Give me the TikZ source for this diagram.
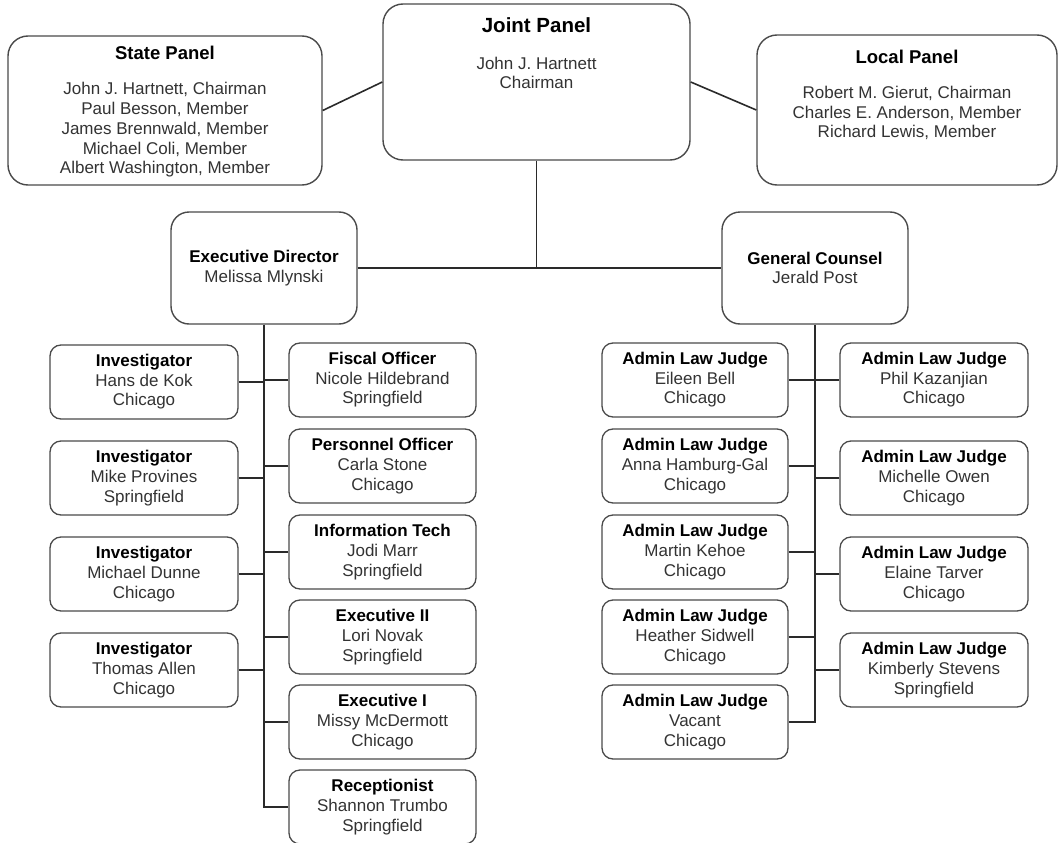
\documentclass[tikz,border=0pt]{standalone}
\usepackage{fontspec}
\setmainfont{Liberation Sans}
\definecolor{boxc}{HTML}{4A4A4A}
\definecolor{bodyc}{HTML}{333333}
\definecolor{linec}{HTML}{2A2A2A}
\begin{document}
\begin{tikzpicture}[x=1pt,y=-1pt,
  panel/.style={draw=boxc, line width=1.4pt, rounded corners=20pt, inner sep=0pt, fill=white},
  mid/.style={draw=boxc, line width=1.4pt, rounded corners=18pt, inner sep=0pt, fill=white,
    minimum width=186pt, minimum height=112pt, align=center, text=bodyc,
    font=\fontsize{17}{19.6}\selectfont},
  small/.style={draw=boxc, line width=1.3pt, rounded corners=11pt, inner sep=0pt, fill=white,
    minimum width=187pt, minimum height=74pt, align=center, text=bodyc,
    font=\fontsize{17}{19.6}\selectfont},
  ptitle/.style={font=\fontsize{18.5}{22}\selectfont\bfseries, text=black, inner sep=0pt},
  pbody/.style={font=\fontsize{17}{19.8}\selectfont, text=bodyc, align=center, inner sep=0pt},
  conn/.style={draw=linec, line width=1.6pt},
]
\useasboundingbox (0,0) rectangle (1060,843);
\newcommand{\ttl}[1]{{\bfseries\color{black}#1}}

% panels
\node[panel, minimum width=314pt, minimum height=149pt] (state) at (165,110.5) {};
\node[ptitle] (statet) at (165,53) {State Panel};
\node[pbody] (stateb) at (165,130) {John J. Hartnett, Chairman\\Paul Besson, Member\\James Brennwald, Member\\Michael Coli, Member\\Albert Washington, Member};

\node[panel, minimum width=307pt, minimum height=156pt] (joint) at (536.5,82) {};
\node[ptitle, font=\fontsize{20.5}{24}\selectfont\bfseries] (jointt) at (536.5,25) {Joint Panel};
\node[pbody] (jointb) at (536.5,73) {John J. Hartnett\\Chairman};

\node[panel, minimum width=300pt, minimum height=150pt] (local) at (907,110) {};
\node[ptitle] (localt) at (907,57) {Local Panel};
\node[pbody] (localb) at (907,113) {Robert M. Gierut, Chairman\\Charles E. Anderson, Member\\Richard Lewis, Member};

% middle
\node[mid] (ed) at (264,268) {\ttl{Executive Director}\\Melissa Mlynski};
\node[mid] (gc) at (815,268) {\ttl{General Counsel}\\Jerald Post};

% investigators
\node[small, minimum width=188pt] (inv1) at (144,382) {\ttl{Investigator}\\Hans de Kok\\Chicago};
\node[small, minimum width=188pt] (inv2) at (144,478) {\ttl{Investigator}\\Mike Provines\\Springfield};
\node[small, minimum width=188pt] (inv3) at (144,574) {\ttl{Investigator}\\Michael Dunne\\Chicago};
\node[small, minimum width=188pt] (inv4) at (144,670) {\ttl{Investigator}\\Thomas Allen\\Chicago};

% staff
\node[small] (fis) at (382.5,380) {\ttl{Fiscal Officer}\\Nicole Hildebrand\\Springfield};
\node[small] (per) at (382.5,466) {\ttl{Personnel Officer}\\Carla Stone\\Chicago};
\node[small] (inf) at (382.5,552) {\ttl{Information Tech}\\Jodi Marr\\Springfield};
\node[small] (ex2) at (382.5,637) {\ttl{Executive II}\\Lori Novak\\Springfield};
\node[small] (ex1) at (382.5,722) {\ttl{Executive I}\\Missy McDermott\\Chicago};
\node[small] (rec) at (382.5,807) {\ttl{Receptionist}\\Shannon Trumbo\\Springfield};

% judges left
\node[small, minimum width=186pt] (jl1) at (695,380) {\ttl{Admin Law Judge}\\Eileen Bell\\Chicago};
\node[small, minimum width=186pt] (jl2) at (695,466) {\ttl{Admin Law Judge}\\Anna Hamburg-Gal\\Chicago};
\node[small, minimum width=186pt] (jl3) at (695,552) {\ttl{Admin Law Judge}\\Martin Kehoe\\Chicago};
\node[small, minimum width=186pt] (jl4) at (695,637) {\ttl{Admin Law Judge}\\Heather Sidwell\\Chicago};
\node[small, minimum width=186pt] (jl5) at (695,722) {\ttl{Admin Law Judge}\\Vacant\\Chicago};

% judges right
\node[small, minimum width=188pt] (jr1) at (934,380) {\ttl{Admin Law Judge}\\Phil Kazanjian\\Chicago};
\node[small, minimum width=188pt] (jr2) at (934,478) {\ttl{Admin Law Judge}\\Michelle Owen\\Chicago};
\node[small, minimum width=188pt] (jr3) at (934,574) {\ttl{Admin Law Judge}\\Elaine Tarver\\Chicago};
\node[small, minimum width=188pt] (jr4) at (934,670) {\ttl{Admin Law Judge}\\Kimberly Stevens\\Springfield};

% connectors
\draw[conn] (state.east) -- (joint.west);
\draw[conn] (joint.east) -- (local.west);
\draw[conn] (joint.south) -- (joint.south |- ed.east);
\draw[conn] (ed.east) -- (gc.west);

\coordinate (edbot) at (ed.south |- rec.west);
\draw[conn] (ed.south) -- (edbot) -- (rec.west);
\foreach \n in {inv1,inv2,inv3,inv4}{\draw[conn] (\n.east) -- (\n.east -| ed.south);}
\foreach \n in {fis,per,inf,ex2,ex1}{\draw[conn] (\n.west) -- (\n.west -| ed.south);}

\coordinate (gcbot) at (gc.south |- jl5.east);
\draw[conn] (gc.south) -- (gcbot) -- (jl5.east);
\foreach \n in {jl1,jl2,jl3,jl4}{\draw[conn] (\n.east) -- (\n.east -| gc.south);}
\foreach \n in {jr1,jr2,jr3,jr4}{\draw[conn] (\n.west) -- (\n.west -| gc.south);}
\end{tikzpicture}
\end{document}
